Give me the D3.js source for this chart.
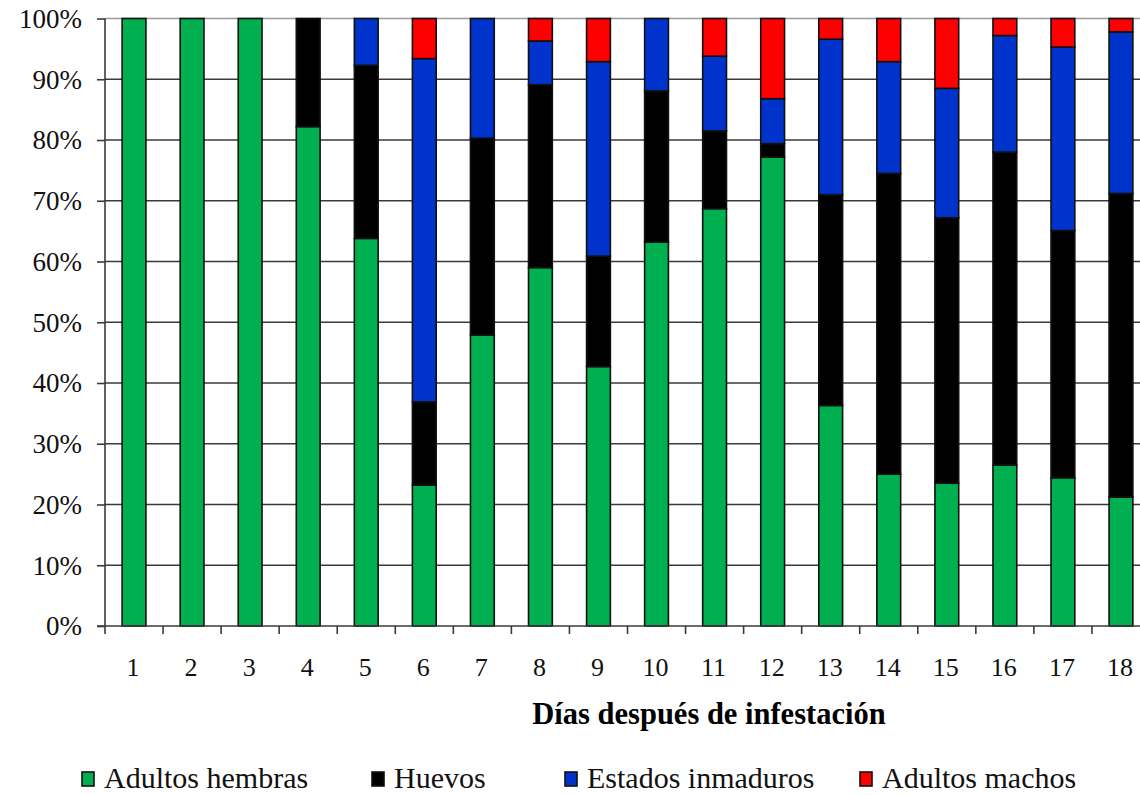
<!DOCTYPE html>
<html>
<head>
<meta charset="utf-8">
<script src="https://cdn.jsdelivr.net/npm/d3@7"></script>
</head>
<body style="margin:0;padding:0;background:#fff;overflow:hidden">
<svg id="chart" width="1140" height="795" style="display:block"></svg>
<script>
const days = ["1","2","3","4","5","6","7","8","9","10","11","12","13","14","15","16","17","18"];
const adultosHembras   = [100, 100, 100, 82.2, 63.8, 23.2, 47.9, 59.0, 42.7, 63.2, 68.7, 77.2, 36.3, 25.0, 23.5, 26.5, 24.4, 21.2];
const huevos           = [0,   0,   0,   17.8, 28.5, 13.7, 32.4, 30.1, 18.2, 24.9, 12.8, 2.2,  34.7, 49.5, 43.7, 51.5, 40.7, 50.0];
const estadosInmaduros = [0,   0,   0,   0,    7.7,  56.5, 19.7, 7.2,  32.0, 11.9, 12.3, 7.4,  25.6, 18.4, 21.3, 19.2, 30.2, 26.6];
const adultosMachos    = [0,   0,   0,   0,    0,    6.6,  0,    3.7,  7.1,  0,    6.2,  13.2, 3.4,  7.1,  11.5, 2.8,  4.7,  2.2];
const seriesNames  = ["Adultos hembras", "Huevos", "Estados inmaduros", "Adultos machos"];
const seriesColors = ["#00B050", "#000000", "#0033CC", "#FF0000"];
const yTicks = [0, 10, 20, 30, 40, 50, 60, 70, 80, 90, 100];
const xTitle = "Días después de infestación";

const FONT = '"Liberation Serif", "Times New Roman", Times, serif';
const keys = ["h", "u", "e", "m"];
const rows = days.map((d, i) => ({
  day: d,
  h: adultosHembras[i], u: huevos[i], e: estadosInmaduros[i], m: adultosMachos[i]
}));
const stacked = d3.stack().keys(keys)
  .offset(d3.stackOffsetExpand)(rows);

const svg = d3.select("#chart");
const mLeft = 105, mRight = 1150, mTop = 18.5, mBottom = 626;

const x = d3.scaleBand().domain(days).range([mLeft, mRight]).paddingInner(0.59).paddingOuter(0.295);
const y = d3.scaleLinear().domain([0, 1]).range([mBottom, mTop]);

// gridlines
svg.append("g").selectAll("line").data(yTicks.filter(t => t > 0)).join("line")
  .attr("x1", mLeft).attr("x2", mRight)
  .attr("y1", t => y(t / 100)).attr("y2", t => y(t / 100))
  .attr("stroke", t => t === 100 ? "#9a9a9a" : "#3a3a3a")
  .attr("stroke-width", 1.6);

// bars
const g = svg.append("g");
stacked.forEach((layer, li) => {
  g.append("g").attr("fill", seriesColors[li])
    .selectAll("rect").data(layer.filter(d => d[1] - d[0] > 0)).join("rect")
    .attr("x", d => x(d.data.day))
    .attr("width", x.bandwidth())
    .attr("y", d => y(d[1]))
    .attr("height", d => y(d[0]) - y(d[1]))
    .attr("stroke", "#111")
    .attr("stroke-width", 1.6);
});

// y axis
const yAxis = d3.axisLeft(y)
  .tickValues(yTicks.map(t => t / 100))
  .tickFormat(d => Math.round(d * 100) + "%")
  .tickSize(8).tickPadding(15);
const ya = svg.append("g").attr("transform", `translate(${mLeft},0)`).call(yAxis);
ya.select(".domain").attr("stroke", "#3a3a3a").attr("stroke-width", 1.6).attr("d", `M0,${mBottom}V${mTop}`);
ya.selectAll(".tick line").attr("stroke", "#3a3a3a").attr("stroke-width", 1.6);
ya.selectAll("text").style("font-family", FONT).style("font-size", "27px").attr("fill", "#111")
  .attr("dy", "0.33em");

// x axis: ticks at category boundaries
const step = x.step();
const boundaries = d3.range(days.length + 1).map(i => x(days[0]) - x.paddingOuter() * step + i * step);
const xa = svg.append("g");
xa.append("line").attr("x1", mLeft - 8).attr("x2", mRight).attr("y1", mBottom).attr("y2", mBottom)
  .attr("stroke", "#3a3a3a").attr("stroke-width", 1.6);
xa.selectAll("line.tk").data(boundaries).join("line").attr("class", "tk")
  .attr("x1", d => d).attr("x2", d => d).attr("y1", mBottom).attr("y2", mBottom + 8)
  .attr("stroke", "#3a3a3a").attr("stroke-width", 1.6);
xa.selectAll("text").data(days).join("text")
  .attr("x", d => x(d) + x.bandwidth() / 2 - 1).attr("y", 676)
  .attr("text-anchor", "middle").style("font-family", FONT).style("font-size", "26px")
  .attr("fill", "#111").text(d => d);

// x title
svg.append("text").attr("x", 709).attr("y", 724).attr("text-anchor", "middle")
  .style("font-family", FONT).style("font-size", "30.5px").style("font-weight", "bold")
  .attr("fill", "#000").text(xTitle);

// legend
const legendX = [82, 372, 565, 860];
const lg = svg.append("g");
seriesNames.forEach((name, i) => {
  lg.append("rect").attr("x", legendX[i]).attr("y", 772).attr("width", 12).attr("height", 14)
    .attr("fill", seriesColors[i]).attr("stroke", "#111").attr("stroke-width", 1.6);
  lg.append("text").attr("x", legendX[i] + 22).attr("y", 788)
    .style("font-family", FONT).style("font-size", "30px").attr("fill", "#111").text(name);
});
</script>
</body>
</html>
